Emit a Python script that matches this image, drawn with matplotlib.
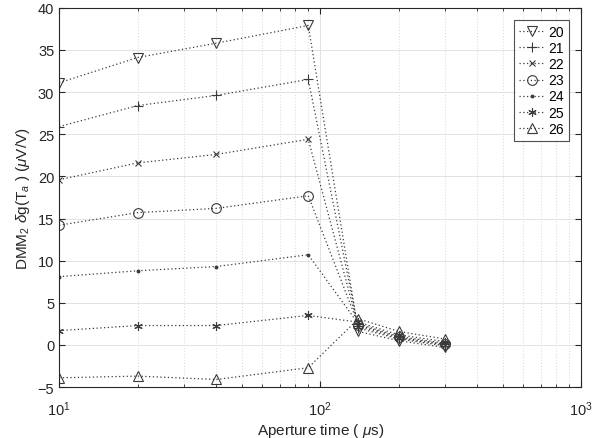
import numpy as np
import matplotlib.pyplot as plt

plt.rcParams['font.family'] = ['Liberation Sans', 'DejaVu Sans']
plt.rcParams['mathtext.fontset'] = 'custom'
plt.rcParams['mathtext.rm'] = 'Liberation Sans'
plt.rcParams['mathtext.it'] = 'Liberation Sans:italic'

# aperture times (us)
aperture = [10, 20, 40, 90, 140, 200, 300]

# one series per legend entry
labels = ['20', '21', '22', '23', '24', '25', '26']
s20 = [31.1, 34.1, 35.8, 37.9, 1.6, 0.5, -0.3]
s21 = [25.9, 28.4, 29.6, 31.5, 2.0, 0.7, -0.1]
s22 = [19.6, 21.6, 22.6, 24.4, 2.2, 0.8, 0.0]
s23 = [14.2, 15.7, 16.2, 17.7, 2.4, 0.9, 0.1]
s24 = [8.1, 8.8, 9.3, 10.7, 2.5, 1.0, 0.2]
s25 = [1.7, 2.3, 2.3, 3.5, 2.7, 1.2, 0.4]
s26 = [-3.9, -3.7, -4.1, -2.7, 3.1, 1.6, 0.7]
series = [s20, s21, s22, s23, s24, s25, s26]
markers = ['v', '+', 'x', 'o', '.', (6, 2, 0), '^']
sizes = [7, 7, 5, 7, 4, 6, 7]

fig = plt.figure(figsize=(6.03, 4.39), dpi=100)
ax = fig.add_axes([0.098, 0.116, 0.866, 0.864])

col = '#3a3a3a'
for vals, lab, m, ms in zip(series, labels, markers, sizes):
    face = col if m == '.' else 'none'
    ax.plot(aperture, vals, linestyle=(0, (1, 2)), color=col, linewidth=0.9,
            marker=m, markersize=ms, markerfacecolor=face,
            markeredgecolor=col, markeredgewidth=0.8, label=lab)

ax.set_xscale('log')
ax.set_xlim(10, 1000)
ax.set_ylim(-5, 40)
ax.set_yticks(np.arange(-5, 41, 5))

ax.grid(True, which='major', color='#e2e2e2', linestyle='-', linewidth=0.7)
ax.grid(True, which='minor', axis='x', color='#dddddd', linestyle=':', linewidth=0.8)
ax.set_axisbelow(True)

ax.tick_params(which='both', direction='in', top=True, right=True, colors='#262626',
               labelsize=10.5)
ax.tick_params(which='major', length=4)
ax.tick_params(which='minor', length=2.5)
ax.tick_params(axis='x', which='major', pad=9)
for sp in ax.spines.values():
    sp.set_color('#262626')
    sp.set_linewidth(0.8)

ax.set_xlabel(r'Aperture time ( $\mu$s)', fontsize=11, color='#262626', labelpad=2)
ax.set_ylabel(r'DMM$_2$ $\delta$g(T$_a$ ) ($\mu$V/V)', fontsize=11, color='#262626')

leg = ax.legend(loc='upper right', fontsize=10, frameon=True, fancybox=False,
                edgecolor='#262626', handlelength=1.8, borderaxespad=0.9,
                labelspacing=0.15, handletextpad=0.3, borderpad=0.35)
leg.get_frame().set_linewidth(0.8)

fig.savefig('out.png', dpi=100)
